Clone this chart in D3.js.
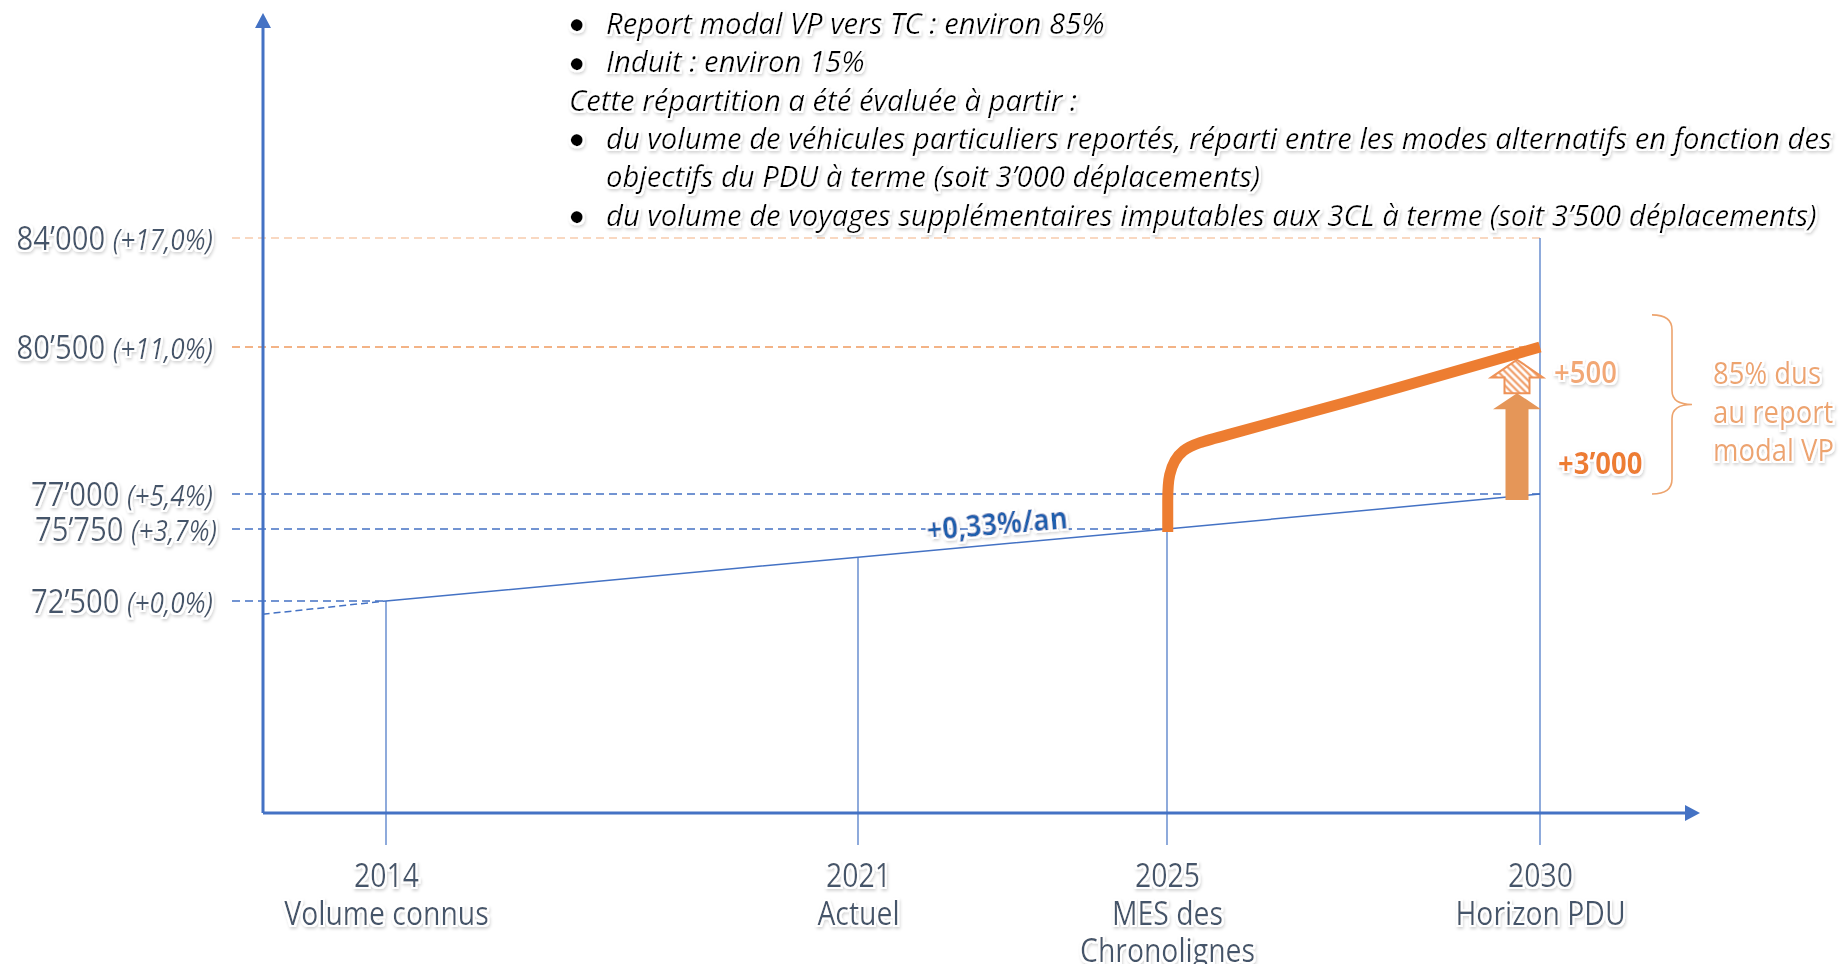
<!DOCTYPE html>
<html>
<head>
<meta charset="utf-8">
<script src="https://cdn.jsdelivr.net/npm/d3@7"></script>
<style>
  body { margin: 0; background: #fff; }
  svg { display: block; }
  text { font-family: "Open Sans", sans-serif; }
</style>
</head>
<body>
<div id="chart"></div>
<script>
// Chart data.
var years = [2014, 2021, 2025, 2030];
var yearSubLabels = [["Volume connus"], ["Actuel"], ["MES des", "Chronolignes"], ["Horizon PDU"]];

var yTicks = [72500, 75750, 77000, 80500, 84000];
var yTickLabels = ["72’500", "75’750", "77’000", "80’500", "84’000"];
var yTickPct = ["(+0,0%)", "(+3,7%)", "(+5,4%)", "(+11,0%)", "(+17,0%)"];
var yTickGuideEnd = [2014, 2025, 2030, 2029.8, 2030];

// Trend +0,33%/an (first point = extension back to the axis).
var trendYears = [2012.17, 2014, 2021, 2025, 2030];
var trendValues = [71900, 72500, 74480, 75750, 77000];
var dropTopValues = [72500, 74480, 75750, 84000];

// Scenario with the Chronolignes.
var pduYears = [2025.01, 2025.01, 2025.01, 2025.17, 2025.64, 2027.2, 2030];
var pduValues = [75620, 76790, 77450, 78100, 78330, 79070, 80500];

// Arrows at 2030.
var arrowFrom = [76790, 79400];
var arrowTo = [79400, 80200];
var arrowLabels = ["+3’000", "+500"];
var arrowLabelAt = [77740, 79900];

var braceValues = [77000, 81530];
var braceLabel = ["85% dus", "au report", "modal VP"];
var rateLabel = "+0,33%/an";
var rateLabelYear = 2022.8;

var noteText = [
  "Report modal VP vers TC : environ 85%",
  "Induit : environ 15%",
  "Cette répartition a été évaluée à partir :",
  "du volume de véhicules particuliers reportés, réparti entre les modes alternatifs en fonction des",
  "objectifs du PDU à terme (soit 3’000 déplacements)",
  "du volume de voyages supplémentaires imputables aux 3CL à terme (soit 3’500 déplacements)"
];
var noteBullet = [1, 1, 0, 1, 0, 1];
var noteIndent = [1, 1, 0, 1, 1, 1];

// Layout parameters.
var svgWidth = 1841;
var svgHeight = 964;
var originX = 263;
var axisY = 813;
var xRange = [386, 858, 1167, 1540];
var yRange = [601, 529, 494, 347, 238];
var blue = "#4472C4";
var orange = "#ED7D31";
var textGrey = "#44546A";

var svg = d3.select("#chart")
  .append("svg")
  .attr("width", svgWidth)
  .attr("height", svgHeight);

var defs = svg.append("defs");

// White halo + soft shadow behind texts.
var glow = defs.append("filter").attr("id", "glow")
  .attr("x", "-10%").attr("y", "-40%").attr("width", "120%").attr("height", "180%");
glow.append("feMorphology").attr("in", "SourceAlpha").attr("operator", "dilate").attr("radius", 2.2).attr("result", "thick");
glow.append("feGaussianBlur").attr("in", "thick").attr("stdDeviation", 1.6).attr("result", "soft");
glow.append("feOffset").attr("in", "soft").attr("dx", 1).attr("dy", 1.5).attr("result", "off");
glow.append("feFlood").attr("flood-color", "#000").attr("flood-opacity", 0.16).attr("result", "grey");
glow.append("feComposite").attr("in", "grey").attr("in2", "off").attr("operator", "in").attr("result", "shadow");
glow.append("feFlood").attr("flood-color", "#fff").attr("result", "white");
glow.append("feComposite").attr("in", "white").attr("in2", "thick").attr("operator", "in").attr("result", "halo");
var merge = glow.append("feMerge");
merge.append("feMergeNode").attr("in", "shadow");
merge.append("feMergeNode").attr("in", "halo");
merge.append("feMergeNode").attr("in", "SourceGraphic");

// Hatch for the "+500" arrow.
var hatch = defs.append("pattern").attr("id", "hatch")
  .attr("patternUnits", "userSpaceOnUse").attr("width", 5).attr("height", 5)
  .attr("patternTransform", "rotate(-45)");
hatch.append("rect").attr("width", 5).attr("height", 5).attr("fill", "#fff");
hatch.append("line").attr("x1", 1.5).attr("y1", 0).attr("x2", 1.5).attr("y2", 5)
  .attr("stroke", "#EE9257").attr("stroke-width", 2);

// Axis arrowhead.
defs.append("marker").attr("id", "axisArrow")
  .attr("viewBox", "0 0 16 16").attr("refX", 0).attr("refY", 8)
  .attr("markerWidth", 16).attr("markerHeight", 16)
  .attr("markerUnits", "userSpaceOnUse").attr("orient", "auto")
  .append("path").attr("d", "M0,0 L15,8 L0,16 Z").attr("fill", blue);

// Scales (the drawing is schematic, so piecewise).
var x = d3.scaleLinear().domain(years).range(xRange);
var y = d3.scaleLinear().domain(yTicks).range(yRange);

// Narrow the fallback font to Calibri-like widths.
var kCache = {};
function kFor(style, weight) {
  var key = style + weight;
  if (!kCache[key]) {
    var t = svg.append("text").attr("font-size", 100)
      .attr("font-style", style).attr("font-weight", weight).text("0000000000");
    kCache[key] = 507 / t.node().getComputedTextLength();
    t.remove();
  }
  return kCache[key];
}

function addText(parent, px, py, str, o) {
  var k = kFor(o.style || "normal", o.weight || "normal") * (o.widen || 1);
  return parent.append("text")
    .attr("transform", `translate(${px},${py}) rotate(${o.rotate || 0}) scale(${k},1)`)
    .attr("font-size", o.size)
    .attr("font-style", o.style || "normal")
    .attr("font-weight", o.weight || "normal")
    .attr("fill", o.color)
    .attr("text-anchor", o.anchor || "start")
    .attr("dy", "0.35em")
    .attr("filter", "url(#glow)")
    .text(str);
}

// Horizontal dashed guides.
svg.append("g").selectAll("line")
  .data(yTicks)
  .enter()
  .append("line")
  .attr("x1", 232)
  .attr("x2", (d, i) => x(yTickGuideEnd[i]))
  .attr("y1", d => y(d))
  .attr("y2", d => y(d))
  .attr("stroke", (d, i) => i === 4 ? "#F8CBAD" : i === 3 ? "#F09B5F" : blue)
  .attr("stroke-width", 1.5)
  .attr("stroke-dasharray", "8,5");

// Vertical drop lines.
svg.append("g").selectAll("line")
  .data(years)
  .enter()
  .append("line")
  .attr("x1", d => x(d))
  .attr("x2", d => x(d))
  .attr("y1", (d, i) => y(dropTopValues[i]))
  .attr("y2", 845)
  .attr("stroke", blue)
  .attr("stroke-width", 1.2);

// Trend line.
var trend = trendYears.map((yr, i) => ({ year: yr, value: trendValues[i] }));
var line = d3.line().x(d => x(d.year)).y(d => y(d.value));

svg.append("path")
  .datum(trend.slice(0, 2))
  .attr("d", line)
  .attr("fill", "none")
  .attr("stroke", blue)
  .attr("stroke-width", 1.5)
  .attr("stroke-dasharray", "7,4");

svg.append("path")
  .datum(trend.slice(1))
  .attr("d", line)
  .attr("fill", "none")
  .attr("stroke", blue)
  .attr("stroke-width", 1.5);

// Arrows at 2030.
var arrowX = x(2030) - 23;
function arrowPath(base, tip, sw, hw, hh) {
  return `M${arrowX - sw / 2},${base} L${arrowX - sw / 2},${tip + hh} L${arrowX - hw / 2},${tip + hh} ` +
    `L${arrowX},${tip} L${arrowX + hw / 2},${tip + hh} L${arrowX + sw / 2},${tip + hh} L${arrowX + sw / 2},${base} Z`;
}

svg.append("path")
  .attr("d", arrowPath(y(arrowFrom[1]), y(arrowTo[1]), 25, 52, 18))
  .attr("fill", "url(#hatch)")
  .attr("stroke", "#EE9257")
  .attr("stroke-width", 2);

svg.append("path")
  .attr("d", arrowPath(y(arrowFrom[0]), y(arrowTo[0]), 23, 48, 16))
  .attr("fill", "#E59658");

// Chronolignes scenario.
var pdu = pduYears.map((yr, i) => ({ year: yr, value: pduValues[i] }));
svg.append("path")
  .datum(pdu)
  .attr("d", d3.line().x(d => x(d.year)).y(d => y(d.value)).curve(d3.curveBasis))
  .attr("fill", "none")
  .attr("stroke", orange)
  .attr("stroke-width", 11);

// Axes lines with arrowheads.
svg.append("line")
  .attr("x1", originX).attr("y1", axisY).attr("x2", originX).attr("y2", 28)
  .attr("stroke", blue).attr("stroke-width", 3)
  .attr("marker-end", "url(#axisArrow)");

svg.append("line")
  .attr("x1", originX).attr("y1", axisY).attr("x2", 1685).attr("y2", axisY)
  .attr("stroke", blue).attr("stroke-width", 3)
  .attr("marker-end", "url(#axisArrow)");

// Y tick labels.
var yAxisG = svg.append("g")
  .attr("transform", "translate(213,0)")
  .call(d3.axisLeft(y).tickValues(yTicks).tickSize(0).tickPadding(0).tickFormat((d, i) => yTickLabels[i]))
  .attr("font-size", null)
  .attr("font-family", null);
yAxisG.select(".domain").remove();
yAxisG.selectAll(".tick text").each(function(d, i) {
  var t = d3.select(this);
  var k = kFor("normal", "normal");
  t.text(null)
    .attr("x", 0)
    .attr("dy", 11)
    .attr("transform", `translate(${i === 1 ? 4 : 0},0) scale(${k},1)`)
    .attr("text-anchor", "end")
    .attr("fill", textGrey)
    .attr("filter", "url(#glow)");
  t.append("tspan").attr("font-size", 33).text(yTickLabels[i] + " ");
  t.append("tspan").attr("font-size", 29.5).attr("font-style", "italic").text(yTickPct[i]);
});

// X tick labels.
var xAxisG = svg.append("g")
  .attr("transform", `translate(0,${axisY})`)
  .call(d3.axisBottom(x).tickValues(years).tickSize(0).tickFormat(""));
xAxisG.select(".domain").remove();
xAxisG.selectAll(".tick text").remove();
xAxisG.selectAll(".tick").each(function(d, i) {
  var g = d3.select(this);
  [String(d)].concat(yearSubLabels[i]).forEach(function(s, j) {
    addText(g, 0, 63 + j * 37.5, s, { size: 32, color: textGrey, anchor: "middle" });
  });
});

// Rate label on the trend line.
var rx = x(rateLabelYear);
var ry = d3.interpolateNumber(y(74480), y(75750))((rx - x(2021)) / (x(2025) - x(2021)));
addText(svg, rx, ry - 21, rateLabel, { size: 31, weight: "bold", color: "#1F5EAD", anchor: "middle", rotate: -5 });

// Arrow labels.
addText(svg, x(2030) + 18, y(arrowLabelAt[0]), arrowLabels[0], { size: 31, weight: "bold", color: orange });
addText(svg, x(2030) + 14, y(arrowLabelAt[1]), arrowLabels[1], { size: 31, weight: 600, color: "#F2A874" });

// Brace and its text.
var bx = x(2030) + 112;
var bTop = y(braceValues[1]);
var bBot = y(braceValues[0]);
var bMid = (bTop + bBot) / 2;
svg.append("path")
  .attr("d", `M${bx},${bTop} Q${bx + 20},${bTop} ${bx + 20},${bTop + 15} L${bx + 20},${bMid - 14} ` +
    `Q${bx + 20},${bMid} ${bx + 40},${bMid} Q${bx + 20},${bMid} ${bx + 20},${bMid + 14} ` +
    `L${bx + 20},${bBot - 15} Q${bx + 20},${bBot} ${bx},${bBot}`)
  .attr("fill", "none")
  .attr("stroke", "#EDA46E")
  .attr("stroke-width", 1.6);

braceLabel.forEach(function(s, j) {
  addText(svg, bx + 61, bMid - 31 + j * 38.5, s, { size: 31, color: "#EDA46E" });
});

// Notes at the top.
noteText.forEach(function(s, j) {
  var ly = 23.5 + j * 38.3;
  if (noteBullet[j]) {
    addText(svg, 577, ly, "●", { size: 28, color: "#000", anchor: "middle", widen: 1.13 });
  }
  addText(svg, noteIndent[j] ? 606 : 569, ly, s, { size: 30, style: "italic", color: "#000", widen: 1.06 });
});
</script>
</body>
</html>
